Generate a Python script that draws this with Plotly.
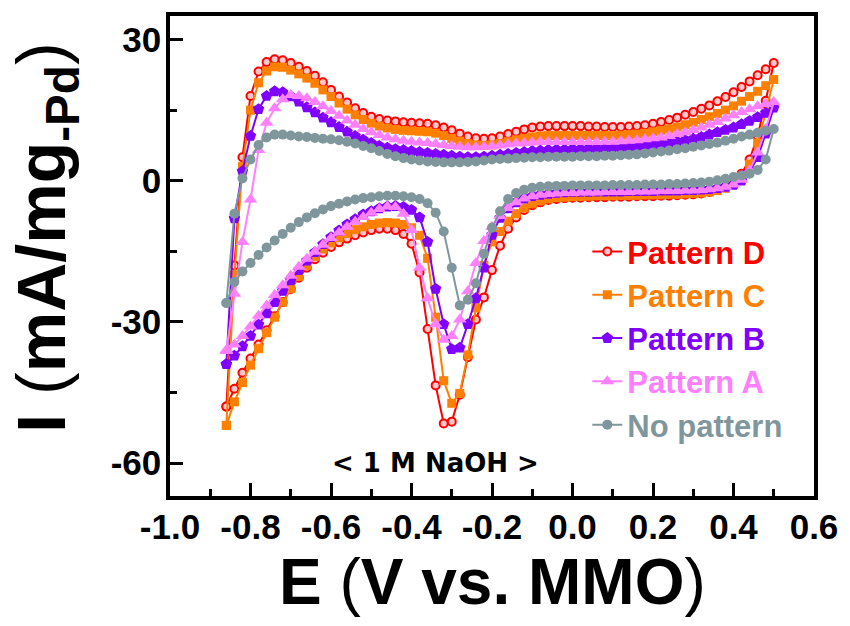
import plotly.graph_objects as go

# Potential grid (V vs. MMO): anodic sweep, then cathodic sweep
E_forward = [-0.86, -0.84, -0.82, -0.80, -0.78, -0.76, -0.74, -0.72, -0.70, -0.68,
             -0.66, -0.64, -0.62, -0.60, -0.58, -0.56, -0.54, -0.52, -0.50, -0.48,
             -0.46, -0.44, -0.42, -0.40, -0.38, -0.36, -0.34, -0.32, -0.30, -0.28,
             -0.26, -0.24, -0.22, -0.20, -0.18, -0.16, -0.14, -0.12, -0.10, -0.08,
             -0.06, -0.04, -0.02, 0.00, 0.02, 0.04, 0.06, 0.08, 0.10, 0.12,
             0.14, 0.16, 0.18, 0.20, 0.22, 0.24, 0.26, 0.28, 0.30, 0.32,
             0.34, 0.36, 0.38, 0.40, 0.42, 0.44, 0.46, 0.48, 0.50]
E_reverse = [0.48, 0.46, 0.44, 0.42, 0.40, 0.38, 0.36, 0.34, 0.32, 0.30,
             0.28, 0.26, 0.24, 0.22, 0.20, 0.18, 0.16, 0.14, 0.12, 0.10,
             0.08, 0.06, 0.04, 0.02, 0.00, -0.02, -0.04, -0.06, -0.08, -0.10,
             -0.12, -0.14, -0.16, -0.18, -0.20, -0.22, -0.24, -0.26, -0.28, -0.30,
             -0.32, -0.34, -0.36, -0.38, -0.40, -0.42, -0.44, -0.46, -0.48, -0.50,
             -0.52, -0.54, -0.56, -0.58, -0.60, -0.62, -0.64, -0.66, -0.68, -0.70,
             -0.72, -0.74, -0.76, -0.78, -0.80, -0.82, -0.84, -0.86]

# Current density (mA/mg-Pd)
D_forward = [-48, -18, 5, 18, 23.2, 25.2, 25.8, 25.6, 25.0, 24.2,
             23.3, 22.3, 20.9, 19.3, 17.9, 16.6, 15.4, 14.4, 13.6, 13.1,
             12.8, 12.6, 12.4, 12.3, 12.2, 12.1, 11.8, 11.3, 10.7, 10.0,
             9.4, 9.0, 8.9, 9.0, 9.4, 9.9, 10.4, 10.9, 11.3, 11.5,
             11.6, 11.6, 11.6, 11.6, 11.6, 11.5, 11.5, 11.4, 11.4, 11.4,
             11.5, 11.6, 11.8, 12.1, 12.5, 12.9, 13.4, 14.0, 14.6, 15.3,
             16.0, 16.9, 17.8, 18.8, 19.9, 21.1, 22.4, 23.7, 25.0]
D_reverse = [17, 9.5, 4.5, 1.5, -0.3, -1.4, -2.0, -2.4, -2.7, -2.9,
             -3.0, -3.1, -3.2, -3.2, -3.3, -3.3, -3.3, -3.4, -3.4, -3.4,
             -3.5, -3.5, -3.5, -3.6, -3.6, -3.7, -3.9, -4.1, -4.6, -5.2,
             -6.2, -7.8, -10.2, -13.8, -19.0, -24.8, -29.5, -37.5, -45.5, -51.2,
             -51.6, -43.5, -31.5, -19.5, -13.4, -11.3, -10.5, -10.2, -10.2, -10.5,
             -11.0, -11.6, -12.3, -13.1, -14.1, -15.3, -16.7, -18.5, -20.6, -23.0,
             -25.8, -28.8, -31.8, -34.8, -37.8, -40.8, -44.2, -48.0]

C_forward = [-52, -20, 3, 15, 20.8, 23.3, 24.2, 24.1, 23.5, 22.7,
             21.8, 20.7, 19.3, 17.9, 16.5, 15.2, 14.0, 13.0, 12.2, 11.6,
             11.2, 10.9, 10.7, 10.6, 10.5, 10.4, 10.1, 9.6, 9.0, 8.4,
             7.9, 7.6, 7.5, 7.6, 7.9, 8.3, 8.7, 9.0, 9.3, 9.5,
             9.6, 9.6, 9.6, 9.6, 9.6, 9.6, 9.6, 9.6, 9.6, 9.7,
             9.8, 9.9, 10.1, 10.4, 10.7, 11.0, 11.4, 11.9, 12.4, 13.0,
             13.6, 14.3, 15.0, 15.9, 16.9, 17.9, 19.0, 20.2, 21.5]
C_reverse = [14.5, 8, 3.5, 0.8, -0.8, -1.6, -2.1, -2.4, -2.6, -2.7,
             -2.8, -2.9, -2.9, -3.0, -3.0, -3.0, -3.1, -3.1, -3.1, -3.2,
             -3.2, -3.2, -3.3, -3.3, -3.4, -3.5, -3.6, -3.9, -4.3, -4.9,
             -5.8, -7.0, -8.6, -10.8, -13.0, -18.0, -27.0, -37.0, -45.2, -47.3,
             -42.5, -29.0, -16.5, -11.6, -10.0, -9.3, -9.0, -8.9, -9.0, -9.3,
             -9.8, -10.4, -11.2, -12.1, -13.2, -14.5, -16.1, -18.0, -20.3, -22.9,
             -25.8, -29.0, -32.3, -35.7, -39.2, -42.9, -47.0, -52.0]

B_forward = [-39, -8, 2, 9.5, 15.2, 18.0, 19.0, 18.8, 17.9, 16.8,
             15.6, 14.5, 13.4, 12.4, 11.4, 10.4, 9.5, 8.7, 8.0, 7.4,
             7.0, 6.7, 6.5, 6.3, 6.1, 5.9, 5.7, 5.5, 5.3, 5.1,
             5.0, 5.0, 5.1, 5.3, 5.5, 5.7, 5.9, 6.1, 6.3, 6.4,
             6.5, 6.6, 6.6, 6.7, 6.7, 6.8, 6.8, 6.9, 7.0, 7.1,
             7.2, 7.3, 7.5, 7.6, 7.8, 8.0, 8.3, 8.6, 8.9, 9.3,
             9.8, 10.3, 10.8, 11.3, 12.0, 12.7, 13.5, 14.4, 15.5]
B_reverse = [10, 5, 1.8, 0.0, -0.9, -1.3, -1.6, -1.8, -1.9, -2.0,
             -2.0, -2.1, -2.1, -2.1, -2.2, -2.2, -2.2, -2.2, -2.3, -2.3,
             -2.3, -2.3, -2.4, -2.4, -2.4, -2.5, -2.6, -2.8, -3.0, -3.3,
             -3.8, -4.6, -5.9, -7.9, -11.5, -18.5, -25.0, -30.5, -35.5, -35.8,
             -30.5, -23.0, -13.0, -7.8, -6.2, -5.6, -5.4, -5.5, -5.9, -6.5,
             -7.2, -8.2, -9.3, -10.6, -12.0, -13.5, -15.2, -17.0, -19.0, -21.2,
             -23.4, -25.8, -28.2, -30.6, -33.0, -35.2, -37.2, -39.0]

A_forward = [-36, -24, -13, -4, 6.5, 12.3, 15.4, 17.3, 18.2, 18.0,
             17.5, 16.7, 15.8, 14.8, 13.8, 12.8, 11.9, 11.0, 10.3, 9.7,
             9.2, 8.8, 8.5, 8.3, 8.1, 8.0, 7.8, 7.6, 7.4, 7.2,
             7.1, 7.1, 7.2, 7.3, 7.5, 7.7, 7.9, 8.0, 8.1, 8.2,
             8.2, 8.2, 8.2, 8.2, 8.2, 8.2, 8.2, 8.3, 8.3, 8.4,
             8.5, 8.6, 8.8, 9.0, 9.2, 9.5, 9.9, 10.3, 10.8, 11.3,
             11.9, 12.5, 13.2, 13.9, 14.6, 15.2, 15.8, 16.3, 16.7]
A_reverse = [11, 6, 2.2, 0.2, -0.8, -1.3, -1.6, -1.8, -2.0, -2.1,
             -2.1, -2.2, -2.2, -2.2, -2.3, -2.3, -2.3, -2.4, -2.4, -2.4,
             -2.4, -2.5, -2.5, -2.5, -2.6, -2.6, -2.7, -2.8, -3.0, -3.3,
             -3.8, -4.6, -5.8, -7.5, -9.8, -12.8, -17.5, -23.5, -29.5, -33.0,
             -33.8, -30.5, -25.0, -18.5, -10.5, -7.0, -5.6, -5.5, -6.0, -6.8,
             -7.7, -8.7, -9.8, -11.0, -12.2, -13.6, -15.1, -16.6, -18.3, -20.2,
             -22.2, -24.3, -26.5, -28.7, -31.0, -33.0, -34.8, -36.2]

N_forward = [-26, -7, 0.5, 4.5, 7.6, 9.2, 9.8, 9.8, 9.6, 9.4,
             9.3, 9.1, 8.9, 8.8, 8.6, 8.3, 7.9, 7.4, 6.9, 6.3,
             5.7, 5.2, 4.8, 4.5, 4.3, 4.1, 4.0, 3.9, 3.9, 3.9,
             4.0, 4.1, 4.3, 4.5, 4.6, 4.7, 4.8, 4.9, 5.0, 5.0,
             5.1, 5.1, 5.1, 5.1, 5.2, 5.2, 5.2, 5.3, 5.3, 5.4,
             5.5, 5.6, 5.8, 6.0, 6.2, 6.4, 6.7, 6.9, 7.2, 7.5,
             7.8, 8.1, 8.5, 8.9, 9.4, 9.8, 10.2, 10.6, 11.0]
N_reverse = [4.5, 2.3, 1.5, 1.1, 0.8, 0.4, 0.1, -0.2, -0.4, -0.5,
             -0.6, -0.7, -0.7, -0.8, -0.8, -0.8, -0.9, -0.9, -0.9, -0.9,
             -1.0, -1.0, -1.0, -1.0, -1.0, -1.1, -1.1, -1.2, -1.3, -1.5,
             -1.9, -2.6, -3.9, -6.5, -10.0, -15.5, -21.8, -25.3, -26.5, -18.5,
             -10.8, -6.8, -4.8, -3.9, -3.5, -3.3, -3.2, -3.2, -3.3, -3.5,
             -3.7, -4.0, -4.4, -4.9, -5.4, -6.1, -6.9, -7.8, -8.8, -10.0,
             -11.3, -12.7, -14.2, -15.8, -17.5, -19.3, -21.5, -26.0]

series_names = ["Pattern D", "Pattern C", "Pattern B", "Pattern A", "No pattern"]
series_fwd = [D_forward, C_forward, B_forward, A_forward, N_forward]
series_rev = [D_reverse, C_reverse, B_reverse, A_reverse, N_reverse]

x_tick_vals = [-1.0, -0.8, -0.6, -0.4, -0.2, 0.0, 0.2, 0.4, 0.6]
x_tick_text = ["-1.0", "-0.8", "-0.6", "-0.4", "-0.2", "0.0", "0.2", "0.4", "0.6"]
x_minor_vals = [-0.9, -0.7, -0.5, -0.3, -0.1, 0.1, 0.3, 0.5]
y_tick_vals = [30, 0, -30, -60]
y_tick_text = ["30", "0", "-30", "-60"]
y_minor_vals = [15, -15, -45]

x_title = "<b>E</b> (<b>V vs. MMO</b>)"
y_title = "<b>I</b> (<b>mA/mg</b><sub><b>-Pd</b></sub>)"
note = "<b>< 1 M NaOH ></b>"

colors = ["#ff0000", "#ff8000", "#8000ff", "#ff80ff", "#7f979c"]
styles = [
    dict(symbol="circle", size=8, color="#ffc8c8", line=dict(color="#ff0000", width=2)),
    dict(symbol="square", size=9, color="#ff8000", line=dict(width=0)),
    dict(symbol="pentagon", size=12, color="#8000ff", line=dict(width=0)),
    dict(symbol="triangle-up", size=12, color="#ff80ff", line=dict(width=0)),
    dict(symbol="circle", size=10, color="#7f979c", line=dict(width=0)),
]

FONT = "Liberation Sans, Arial, sans-serif"

fig = go.Figure()
for name, fwd, rev, col, mk in zip(series_names, series_fwd, series_rev, colors, styles):
    fig.add_trace(go.Scatter(
        x=E_forward + E_reverse,
        y=fwd + rev,
        mode="lines+markers",
        name=f'<span style="color:{col}">{name}</span>',
        line=dict(color=col, width=2),
        marker=mk,
    ))

axis_common = dict(
    showline=True, linewidth=3.5, linecolor="black", mirror=True,
    ticks="inside", ticklen=13, tickwidth=3, tickcolor="black",
    showgrid=False, zeroline=False,
    tickfont=dict(family=FONT, size=35, color="black", weight="bold"),
)

fig.update_layout(
    width=850, height=626,
    margin=dict(l=170, r=31, t=16, b=130, pad=0),
    paper_bgcolor="white", plot_bgcolor="white",
    font=dict(family=FONT, color="black"),
    showlegend=True,
    legend=dict(x=0.648, y=0.565, xanchor="left", yanchor="top",
                bgcolor="rgba(0,0,0,0)",
                font=dict(family=FONT, size=31, weight="bold")),
    xaxis=dict(
        range=[-1.0, 0.6], tickmode="array", tickvals=x_tick_vals, ticktext=x_tick_text,
        minor=dict(tickmode="array", tickvals=x_minor_vals, ticks="inside",
                   ticklen=7, tickwidth=3, tickcolor="black"),
        ticklabelstandoff=-3,
        **axis_common,
    ),
    yaxis=dict(
        range=[-67, 35], tickmode="array", tickvals=y_tick_vals, ticktext=y_tick_text,
        minor=dict(tickmode="array", tickvals=y_minor_vals, ticks="inside",
                   ticklen=7, tickwidth=3, tickcolor="black"),
        ticklabelstandoff=-2,
        **axis_common,
    ),
)

# axis titles placed precisely as paper-anchored text
fig.add_annotation(
    x=0.5, y=-0.18, xref="paper", yref="paper", xanchor="center", yanchor="middle",
    text=x_title, showarrow=False,
    font=dict(family=FONT, size=64, color="black"),
)
fig.add_annotation(
    x=-0.193, y=0.5375, xref="paper", yref="paper", xanchor="center", yanchor="middle",
    text=y_title, showarrow=False, textangle=-90,
    font=dict(family=FONT, size=68, color="black"),
)

fig.add_annotation(
    x=-0.34, y=-60, xref="x", yref="y",
    text=note, showarrow=False,
    font=dict(family="DejaVu Sans, sans-serif", size=26, color="black"),
)

fig.write_html("out.html")
